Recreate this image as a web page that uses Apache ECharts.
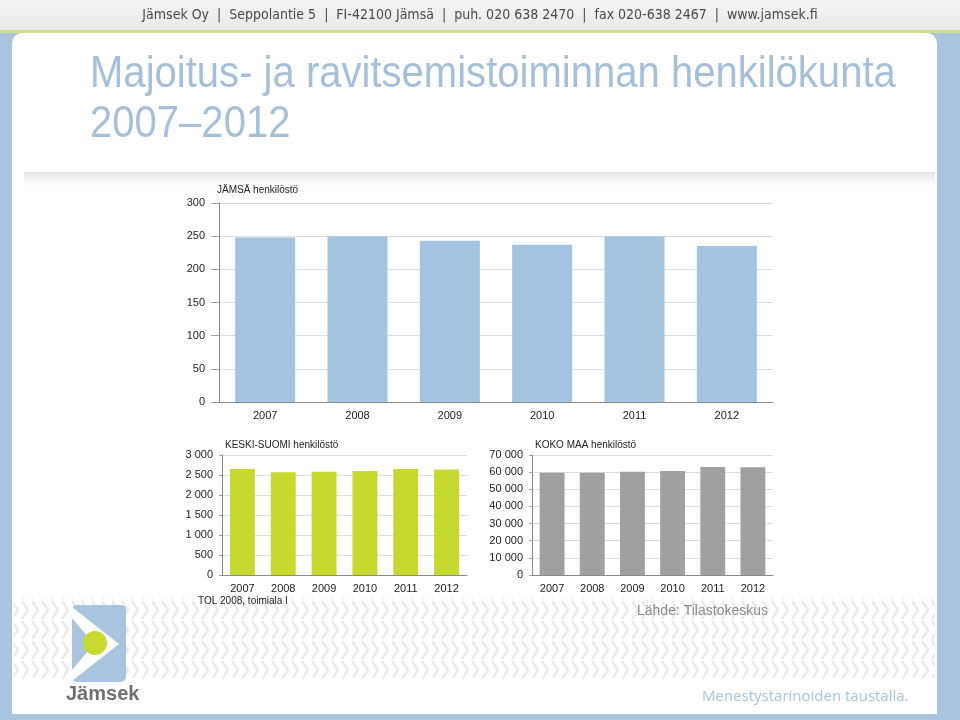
<!DOCTYPE html>
<html>
<head>
<meta charset="utf-8">
<script src="https://cdn.jsdelivr.net/npm/echarts@6/dist/echarts.min.js"></script>
<style>html,body{margin:0;padding:0;background:#fff}#c{width:960px;height:720px}</style>
</head>
<body>
<div id="c"></div>
<script>
// ---- data ----
var years = ['2007', '2008', '2009', '2010', '2011', '2012'];
var jamsa = [248, 250, 243, 237, 250, 235];
var keskiSuomi = [2650, 2570, 2580, 2600, 2650, 2640];
var kokoMaa = [59700, 59700, 60300, 60700, 63000, 62900];
var jamsaTicks = [0, 300, 50];
var keskiTicks = [0, 3000, 500];
var kokoTicks = [0, 70000, 10000];

var chart = echarts.init(document.getElementById('c'), null, {renderer: 'canvas'});

function fmt(v) { return String(v).replace(/\B(?=(\d{3})+(?!\d))/g, ' '); }

// chevron pattern tile
var tile = document.createElement('canvas');
tile.width = 10; tile.height = 20;
(function () {
  var g = tile.getContext('2d');
  g.strokeStyle = '#e8e8e8'; g.lineWidth = 2.2;
  g.beginPath(); g.moveTo(2, 1); g.lineTo(8, 10); g.lineTo(2, 19); g.stroke();
})();

var axisCommon = {
  axisLine: {show: true, lineStyle: {color: '#8a8a8a'}},
  axisTick: {show: false},
  axisLabel: {color: '#222', fontFamily: 'Liberation Sans, Arial', fontSize: 11}
};

function mkGrid(l, t, w, h) {
  return {left: l, top: t, width: w, height: h, show: true, borderColor: '#9a9a9a', borderWidth: 1, backgroundColor: '#fff'};
}
function mkX(i) {
  return Object.assign({}, axisCommon, {type: 'category', gridIndex: i, data: years,
    axisLabel: Object.assign({}, axisCommon.axisLabel, {margin: 8})});
}
function mkY(i, t, tickLen) {
  return Object.assign({}, axisCommon, {type: 'value', gridIndex: i, min: t[0], max: t[1], interval: t[2],
    axisTick: {show: true, length: tickLen, lineStyle: {color: '#a0a0a0'}},
    splitLine: {show: true, lineStyle: {color: '#dedede'}},
    axisLabel: Object.assign({}, axisCommon.axisLabel, {margin: tickLen + 6, formatter: fmt})});
}

var option = {
  animation: false,
  backgroundColor: '#a9c4de',
  graphic: [
    // header band
    {type: 'rect', shape: {x: 0, y: 0, width: 960, height: 31}, style: {fill: new echarts.graphic.LinearGradient(0, 0, 0, 1, [{offset: 0, color: '#f4f4f4'}, {offset: 1, color: '#e9e9e9'}])}, z: 0},
    {type: 'rect', shape: {x: 0, y: 30, width: 960, height: 3}, style: {fill: '#d3df86'}, z: 0},
    // white panel
    {type: 'rect', shape: {x: 12, y: 33, width: 925, height: 681, r: [10, 10, 0, 0]}, style: {fill: '#ffffff'}, z: 0},
    // chart area top shade
    {type: 'rect', shape: {x: 24, y: 172, width: 911, height: 14}, style: {fill: new echarts.graphic.LinearGradient(0, 0, 0, 1, [{offset: 0, color: '#e4e4e4'}, {offset: 1, color: '#ffffff'}])}, z: 0},
    // chevron pattern
    {type: 'rect', shape: {x: 14, y: 598, width: 921, height: 80}, style: {fill: {image: tile, repeat: 'repeat'}}, z: 0},
    // header text
    {type: 'text', left: 'center', top: 8, style: {text: 'Jämsek Oy  |  Seppolantie 5  |  FI-42100 Jämsä  |  puh. 020 638 2470  |  fax 020-638 2467  |  www.jamsek.fi', font: '14px "DejaVu Sans Condensed", sans-serif', fill: '#4a4a4a'}, z: 5},
    // title
    {type: 'text', x: 90, y: 50, scaleX: 0.89, style: {text: 'Majoitus- ja ravitsemistoiminnan henkilökunta\n2007\u20132012', font: '45px "Liberation Sans", Arial, sans-serif', lineHeight: 50, fill: '#a7c0d9'}, z: 5},
    // chart titles
    {type: 'text', x: 217, y: 185, style: {text: 'JÄMSÄ henkilöstö', font: '10px "Liberation Sans", Arial', fill: '#222'}, z: 5},
    {type: 'text', x: 225, y: 440, style: {text: 'KESKI-SUOMI henkilöstö', font: '10px "Liberation Sans", Arial', fill: '#222'}, z: 5},
    {type: 'text', x: 535, y: 440, style: {text: 'KOKO MAA henkilöstö', font: '10px "Liberation Sans", Arial', fill: '#222'}, z: 5},
    {type: 'text', x: 198, y: 596, style: {text: 'TOL 2008, toimiala I', font: '10px "Liberation Sans", Arial', fill: '#222'}, z: 5},
    {type: 'text', x: 637, y: 604, style: {text: 'Lähde: Tilastokeskus', font: '14px "Liberation Sans", Arial', fill: '#8a8a8a'}, z: 5},
    // logo
    {type: 'rect', shape: {x: 72, y: 605, width: 54, height: 77, r: 5}, style: {fill: '#a9c4de'}, z: 6},
    {type: 'polygon', shape: {points: [[72, 607], [119, 644], [72, 681]]}, style: {fill: '#ffffff'}, z: 6},
    {type: 'polygon', shape: {points: [[72, 618], [94, 644], [72, 670]]}, style: {fill: '#a9c4de'}, z: 6},
    {type: 'circle', shape: {cx: 95, cy: 643, r: 12}, style: {fill: '#c8d930'}, z: 7},
    {type: 'text', x: 66, y: 684, style: {text: 'Jämsek', font: 'bold 20px "Liberation Sans", Arial', fill: '#707070'}, z: 7},
    {type: 'text', x: 702, y: 689, style: {text: 'Menestystarinoiden taustalla.', font: '15px "Open Sans", sans-serif', fill: '#a9c4de'}, z: 7}
  ],
  grid: [mkGrid(219, 203, 554, 199), mkGrid(222, 455, 245, 120), mkGrid(532, 455, 241, 120)],
  xAxis: [mkX(0), mkX(1), mkX(2)],
  yAxis: [mkY(0, jamsaTicks, 8), mkY(1, keskiTicks, 3), mkY(2, kokoTicks, 3)],
  series: [
    {type: 'bar', xAxisIndex: 0, yAxisIndex: 0, data: jamsa, barWidth: '65%', itemStyle: {color: '#a3c3de'}},
    {type: 'bar', xAxisIndex: 1, yAxisIndex: 1, data: keskiSuomi, barWidth: '61%', itemStyle: {color: '#c5d92e'}},
    {type: 'bar', xAxisIndex: 2, yAxisIndex: 2, data: kokoMaa, barWidth: '62%', itemStyle: {color: '#a0a0a0'}}
  ]
};
chart.setOption(option);
</script>
</body>
</html>
